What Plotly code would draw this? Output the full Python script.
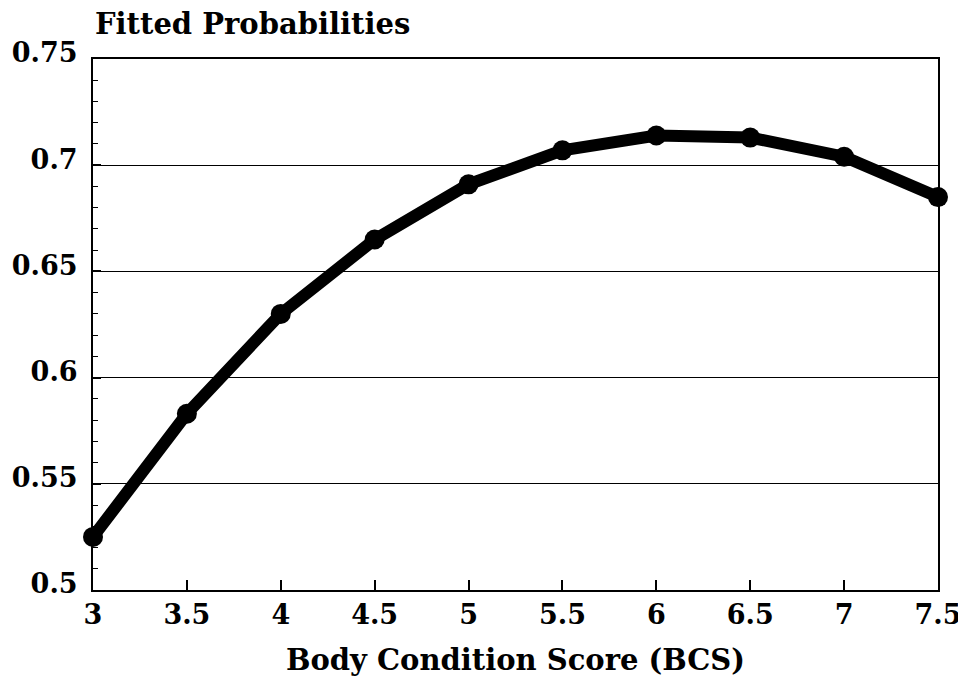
import plotly.graph_objects as go

bcs = [3, 3.5, 4, 4.5, 5, 5.5, 6, 6.5, 7, 7.5]
prob = [0.525, 0.583, 0.630, 0.665, 0.691, 0.707, 0.714, 0.713, 0.704, 0.685]
x_ticks = [3, 3.5, 4, 4.5, 5, 5.5, 6, 6.5, 7, 7.5]
x_tick_text = ["3", "3.5", "4", "4.5", "5", "5.5", "6", "6.5", "7", "7.5"]
y_ticks = [0.5, 0.55, 0.6, 0.65, 0.7, 0.75]
y_tick_text = ["0.5", "0.55", "0.6", "0.65", "0.7", "0.75"]

FONT = "DejaVu Serif"

fig = go.Figure()
fig.add_trace(go.Scatter(
    x=bcs, y=prob, mode="lines+markers",
    line=dict(color="black", width=12),
    marker=dict(color="black", size=20),
    showlegend=False,
    cliponaxis=False,
))

fig.update_layout(
    width=958, height=677,
    margin=dict(l=85, r=28, t=51, b=95),
    paper_bgcolor="white", plot_bgcolor="white",
    font=dict(family=FONT, color="black"),
    annotations=[
        dict(text="<b>Fitted Probabilities</b>", xref="paper", yref="paper",
             x=0.0, y=1.0, xanchor="left", yanchor="bottom", yshift=16,
             showarrow=False, font=dict(family=FONT, size=29, color="black")),
    ],
)

fig.update_xaxes(
    range=[3, 7.5],
    automargin=False,
    tickmode="array", tickvals=x_ticks, ticktext=["<b>%s</b>" % t for t in x_tick_text],
    tickfont=dict(family=FONT, size=27, color="black"),
    ticklabeloverflow="allow",
    ticks="inside", ticklen=10, tickwidth=2, tickcolor="black",
    showline=True, linecolor="black", linewidth=2, mirror=True,
    showgrid=False, zeroline=False,
    title=dict(text="<b>Body Condition Score (BCS)</b>",
               font=dict(family=FONT, size=29, color="black"), standoff=20),
)
fig.update_yaxes(
    range=[0.5, 0.75],
    automargin=False,
    tickmode="array", tickvals=y_ticks, ticktext=["<b>%s</b>" % t for t in y_tick_text],
    tickfont=dict(family=FONT, size=27, color="black"),
    ticklabeloverflow="allow",
    ticklabelshift=-6,
    ticks="inside", ticklen=8, tickwidth=2, tickcolor="black",
    minor=dict(dtick=0.01, ticks="inside", ticklen=5, tickwidth=1, tickcolor="black", showgrid=False),
    showline=True, linecolor="black", linewidth=2, mirror=True,
    showgrid=True, gridcolor="black", gridwidth=1,
    zeroline=False,
    ticklabelstandoff=8,
)

fig.write_html("out.html")
